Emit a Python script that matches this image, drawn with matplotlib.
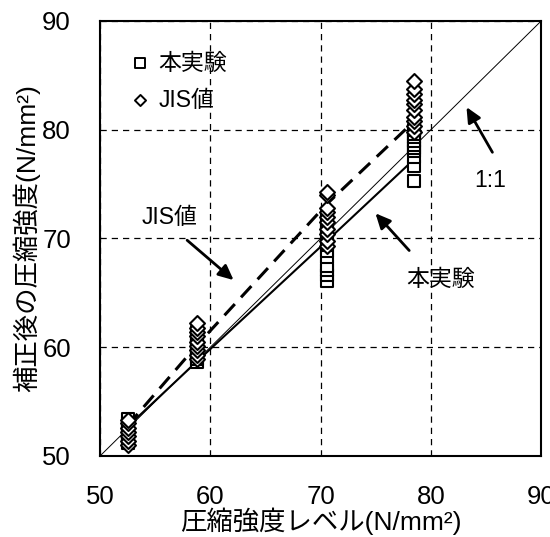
import matplotlib

matplotlib.use("Agg")
import matplotlib.pyplot as plt  # noqa: E402

plt.rcParams.update({
    "font.family": ["Liberation Sans", "Noto Sans CJK JP", "DejaVu Sans"],
    "figure.dpi": 100,
})

# strength levels (x) for each test group
levels = [52.5, 58.8, 70.6, 78.5]

# corrected strength, this experiment (squares)
hon_vals = [
    [51.2, 51.6, 52.0, 52.3, 52.7, 53.0, 53.4],
    [58.6, 58.9, 59.2, 59.5, 59.9, 60.2, 60.6, 61.0, 61.4],
    [66.1, 66.6, 67.1, 67.5, 68.3, 68.8, 69.4, 70.0, 70.5, 71.0, 71.5, 72.0],
    [75.3, 76.7, 77.5, 78.0, 78.3, 78.6, 79.0, 79.3, 79.6, 80.0],
]
# corrected strength, JIS values (diamonds)
jis_vals = [
    [51.0, 51.4, 51.8, 52.2, 52.6, 53.0, 53.3],
    [58.9, 59.3, 59.7, 60.1, 60.5, 61.0, 61.4, 61.8, 62.2],
    [69.3, 69.8, 70.4, 70.9, 71.5, 72.0, 72.4, 72.8, 74.0, 74.3],
    [79.8, 80.3, 80.8, 81.2, 81.8, 82.4, 82.7, 83.3, 83.7, 84.5],
]
# trend lines through the groups
hon_line = [52.7, 58.7, 69.8, 77.3]
jis_line = [52.8, 60.2, 73.2, 80.8]
one_to_one = [50, 90]

ticks = [50, 60, 70, 80, 90]

fig = plt.figure(figsize=(5.5, 5.37))
ax = fig.add_axes([0.182, 0.151, 0.802, 0.810])

ax.plot(one_to_one, one_to_one, color="black", linewidth=0.7, zorder=2)
ax.plot(levels, hon_line, color="black", linewidth=1.5, zorder=2)
ax.plot(levels, jis_line, color="black", linewidth=2.2, linestyle=(0, (5, 3)), zorder=2)

for x, ys in zip(levels, hon_vals):
    ax.scatter([x] * len(ys), ys, marker="s", s=72, facecolors="white",
               edgecolors="black", linewidths=1.5, zorder=3)
for x, ys in zip(levels, jis_vals):
    ax.scatter([x] * len(ys), ys, marker="D", s=58, facecolors="white",
               edgecolors="black", linewidths=1.5, zorder=4)

# legend drawn as text + markers
ax.scatter([53.6], [86.1], marker="s", s=42, facecolors="white",
           edgecolors="black", linewidths=1.4, zorder=5)
ax.scatter([53.6], [82.7], marker="D", s=32, facecolors="white",
           edgecolors="black", linewidths=1.4, zorder=5)
ax.text(55.3, 86.1, "本実験", fontsize=16.5, va="center", ha="left")
ax.text(55.3, 82.7, "JIS値", fontsize=16.5, va="center", ha="left")

arrow = dict(arrowstyle="-|>,head_length=0.9,head_width=0.42", color="black", lw=2)
ax.annotate("", xy=(62.3, 66.0), xytext=(57.7, 70.0), arrowprops=arrow)
ax.text(56.3, 71.9, "JIS値", fontsize=16.5, ha="center", va="center")
ax.annotate("", xy=(74.8, 72.5), xytext=(78.2, 68.7), arrowprops=arrow)
ax.text(80.9, 66.2, "本実験", fontsize=16.5, ha="center", va="center")
ax.annotate("", xy=(83.1, 82.3), xytext=(85.7, 77.7), arrowprops=arrow)
ax.text(85.4, 75.3, "1:1", fontsize=16.5, ha="center", va="center")

ax.set_xlim(50, 90)
ax.set_ylim(50, 90)
ax.set_xticks(ticks)
ax.set_yticks(ticks)
ax.tick_params(axis="x", labelsize=18.5, direction="in", length=0, pad=21)
ax.tick_params(axis="y", labelsize=18.5, direction="in", length=0, pad=21)
ax.grid(True, color="black", linestyle=(0, (5, 4)), linewidth=0.9)
for spine in ax.spines.values():
    spine.set_linewidth(1.5)

ax.set_xlabel("圧縮強度レベル(N/mm²)", fontsize=19)
ax.set_ylabel("補正後の圧縮強度(N/mm²)", fontsize=19)
ax.xaxis.set_label_coords(0.5, -0.118)
ax.yaxis.set_label_coords(-0.136, 0.5)

fig.savefig("out.png", dpi=100)
